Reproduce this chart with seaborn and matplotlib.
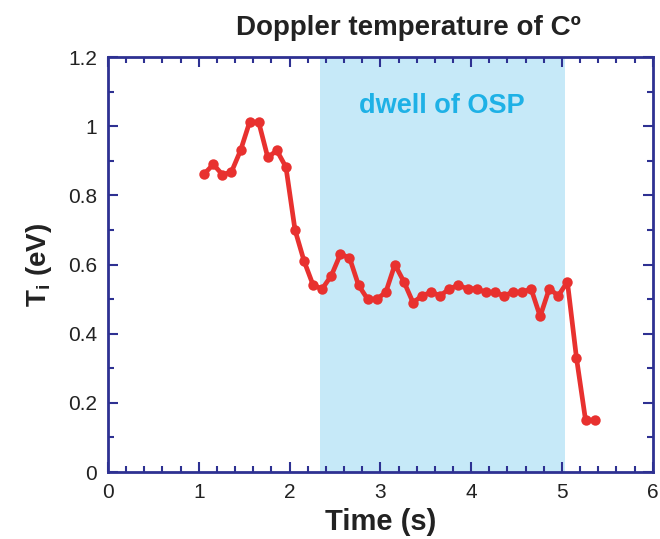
import matplotlib
matplotlib.use("Agg")
import matplotlib.pyplot as plt
import seaborn as sns
import pandas as pd
from matplotlib.ticker import MultipleLocator

time_s = [1.06, 1.16, 1.26, 1.36, 1.46, 1.56, 1.66, 1.76, 1.86, 1.96,
          2.06, 2.16, 2.26, 2.36, 2.46, 2.56, 2.66, 2.76, 2.86, 2.96,
          3.06, 3.16, 3.26, 3.36, 3.46, 3.56, 3.66, 3.76, 3.86, 3.96,
          4.06, 4.16, 4.26, 4.36, 4.46, 4.56, 4.66, 4.76, 4.86, 4.96,
          5.06, 5.16, 5.26, 5.36]
ti_ev = [0.862, 0.89, 0.86, 0.868, 0.93, 1.012, 1.012, 0.91, 0.93, 0.882,
         0.70, 0.61, 0.54, 0.53, 0.568, 0.63, 0.62, 0.54, 0.50, 0.50,
         0.52, 0.60, 0.55, 0.49, 0.51, 0.52, 0.51, 0.53, 0.54, 0.53,
         0.53, 0.52, 0.52, 0.51, 0.52, 0.52, 0.53, 0.45, 0.53, 0.51,
         0.55, 0.33, 0.15, 0.15]
dwell_span = [2.33, 5.03]
xticks = [0, 1, 2, 3, 4, 5, 6]
yticks = [0, 0.2, 0.4, 0.6, 0.8, 1.0, 1.2]
ytick_labels = ["0", "0.2", "0.4", "0.6", "0.8", "1", "1.2"]

sns.set_theme(style="white")
plt.rcParams['font.family'] = ['Liberation Sans', 'DejaVu Sans']
plt.rcParams['mathtext.fontset'] = 'custom'
plt.rcParams['mathtext.rm'] = 'Liberation Sans:bold'
plt.rcParams['mathtext.bf'] = 'Liberation Sans:bold'

df = pd.DataFrame({"Time (s)": time_s, "Ti": ti_ev})

fig = plt.figure(figsize=(6.6, 5.39), dpi=100)
ax = fig.add_axes([0.1636, 0.1243, 0.8254, 0.7697])

navy = "#2e3192"
ax.axvspan(dwell_span[0], dwell_span[1], color="#c6e9f8", lw=0, zorder=0)

sns.lineplot(data=df, x="Time (s)", y="Ti", ax=ax, color="#e8312f",
             linewidth=3.4, marker="o", markersize=7.5, markeredgewidth=0,
             zorder=3)

ax.set_xlim(0, 6)
ax.set_ylim(0, 1.2)
ax.set_xticks(xticks)
ax.set_yticks(yticks)
ax.set_yticklabels(ytick_labels)
ax.xaxis.set_minor_locator(MultipleLocator(0.2))
ax.yaxis.set_minor_locator(MultipleLocator(0.1))
ax.tick_params(which="both", direction="in", top=True, right=True,
               bottom=True, left=True, color=navy, width=1.5,
               labelsize=15, labelcolor="#222222")
ax.tick_params(which="major", length=7, pad=8)
ax.tick_params(which="minor", length=4)
for s in ax.spines.values():
    s.set_color(navy)
    s.set_linewidth(2)

ax.set_xlabel("Time (s)", fontsize=21, fontweight="bold", color="#222222", labelpad=4)
ax.set_ylabel("T$_{\\mathrm{i}}$ (eV)", fontsize=20, fontweight="bold", color="#222222", labelpad=10)
fig.text(408 / 660, 1 - 28 / 539, "Doppler temperature of C\u00ba", fontsize=20,
         fontweight="bold", color="#222222", ha="center", va="center")

ax.text(3.68, 1.06, "dwell of OSP", color="#1eb1e6", fontsize=19.5,
        fontweight="bold", ha="center", va="center")

fig.savefig("out.png", dpi=100)
